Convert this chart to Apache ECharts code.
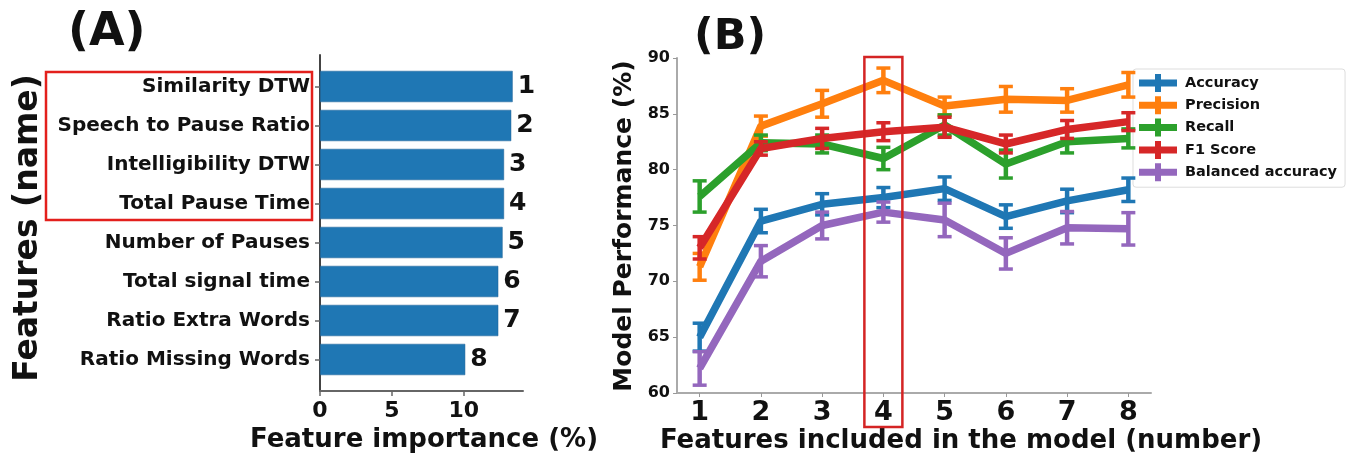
<!DOCTYPE html>
<html><head><meta charset="utf-8">
<script src="https://cdn.jsdelivr.net/npm/echarts@6/dist/echarts.min.js"></script>
<style>html,body{margin:0;padding:0;background:#fff}#c{width:1358px;height:462px}</style>
</head><body><div id="c"></div>
<script>
// ---- Panel A data ----
const features = ['Similarity DTW','Speech to Pause Ratio','Intelligibility DTW','Total Pause Time','Number of Pauses','Total signal time','Ratio Extra Words','Ratio Missing Words'];
const importance = [13.4, 13.3, 12.8, 12.8, 12.7, 12.4, 12.4, 10.1];
const ranks = ['1','2','3','4','5','6','7','8'];
const importanceTicks = [0, 5, 10];

// ---- Panel B data ----
const featureCounts = [1, 2, 3, 4, 5, 6, 7, 8];
const accuracy     = [65.0, 75.4, 76.9, 77.5, 78.3, 75.8, 77.2, 78.2];
const accuracyErr  = [1.25, 1.05, 0.95, 0.9, 1.05, 1.05, 1.05, 1.05];
const precision    = [71.3, 83.9, 85.9, 88.0, 85.7, 86.3, 86.2, 87.6];
const precisionErr = [1.2, 0.9, 1.2, 1.1, 0.8, 1.15, 1.05, 1.1];
const recall       = [77.6, 82.4, 82.3, 81.0, 84.0, 80.5, 82.5, 82.8];
const recallErr    = [1.4, 0.7, 0.8, 1.0, 0.9, 1.25, 1.0, 0.85];
const f1           = [73.0, 81.9, 82.8, 83.4, 83.8, 82.3, 83.6, 84.3];
const f1Err        = [1.0, 0.6, 0.9, 0.8, 0.9, 0.8, 0.8, 0.8];
const balanced     = [62.2, 71.8, 75.0, 76.2, 75.5, 72.5, 74.8, 74.7];
const balancedErr  = [1.5, 1.4, 1.2, 0.9, 1.5, 1.4, 1.45, 1.45];
const metricNames  = ['Accuracy', 'Precision', 'Recall', 'F1 Score', 'Balanced accuracy'];
const metricColors = ['#1f77b4', '#ff7f0e', '#2ca02c', '#d62728', '#9467bd'];
const perfTicksInterval = 5;

const FF = 'DejaVu Sans';
const metrics = [[accuracy, accuracyErr],[precision, precisionErr],[recall, recallErr],[f1, f1Err],[balanced, balancedErr]];

function errRender(color){
  return function(params, api){
    const x = api.value(0), lo = api.value(1), hi = api.value(2);
    const p1 = api.coord([x, lo]), p2 = api.coord([x, hi]);
    const cw = 7;
    return {type:'group', children:[
      {type:'line', shape:{x1:p1[0],y1:p1[1],x2:p2[0],y2:p2[1]}, style:{stroke:color, lineWidth:4.5}},
      {type:'line', shape:{x1:p1[0]-cw,y1:p1[1],x2:p1[0]+cw,y2:p1[1]}, style:{stroke:color, lineWidth:3.5}},
      {type:'line', shape:{x1:p2[0]-cw,y1:p2[1],x2:p2[0]+cw,y2:p2[1]}, style:{stroke:color, lineWidth:3.5}}
    ]};
  };
}

const series = [];
series.push({
  type:'bar', xAxisIndex:0, yAxisIndex:0, data: importance, barWidth:'80%',
  itemStyle:{color:'#1f77b4', borderColor:'#1a5f94', borderWidth:0.5},
  label:{show:true, position:'right', distance:5, fontFamily:FF, fontWeight:'bold', fontSize:25, color:'#111',
         formatter: p => ranks[p.dataIndex]},
  silent:true
});
metrics.forEach((m, i) => {
  const vals = m[0], errs = m[1];
  series.push({
    type:'line', name: metricNames[i], xAxisIndex:2, yAxisIndex:2,
    data: featureCounts.map((x, k) => [x, vals[k]]),
    showSymbol:false, symbol:'none', color: metricColors[i],
    lineStyle:{width:7.5, color: metricColors[i]}, z: 3 + i*2, silent:true
  });
  series.push({
    type:'custom', name: metricNames[i] + ' err', xAxisIndex:2, yAxisIndex:2,
    data: featureCounts.map((x, k) => [x, vals[k]-errs[k], vals[k]+errs[k]]),
    encode:{x:0, y:[1,2]}, renderItem: errRender(metricColors[i]), z: 4 + i*2, silent:true
  });
});

const chart = echarts.init(document.getElementById('c'), null, {renderer:'canvas'});
const option = {
  backgroundColor:'#fff',
  animation:false,
  grid:[
    {left:320, top:67, width:203, height:312},
    {left:320, top:55, width:203, height:336},
    {left:677, top:58, width:474, height:335}
  ],
  xAxis:[
    {gridIndex:0, type:'value', min:0, max:14.12, show:false},
    {gridIndex:1, type:'value', min:0, max:14.12,
     axisLine:{show:true, lineStyle:{color:'#666', width:2}},
     axisTick:{show:true, customValues: importanceTicks, length:5, lineStyle:{color:'#666', width:1.5}},
     axisLabel:{customValues: importanceTicks, fontFamily:FF, fontWeight:'bold', fontSize:22, color:'#111', margin:9},
     splitLine:{show:false}},
    {gridIndex:2, type:'value', min:0.63, max:8.37,
     axisLine:{show:true, lineStyle:{color:'#aaa', width:2}},
     axisTick:{show:true, customValues: featureCounts, length:4, lineStyle:{color:'#999'}},
     axisLabel:{customValues: featureCounts, fontFamily:FF, fontWeight:'bold', fontSize:27, color:'#111', margin:6},
     splitLine:{show:false}}
  ],
  yAxis:[
    {gridIndex:0, type:'category', inverse:true, data: features,
     axisLine:{show:false},
     axisTick:{show:true, alignWithLabel:true, length:5, lineStyle:{color:'#666', width:1.5}},
     axisLabel:{fontFamily:FF, fontWeight:'bold', fontSize:20, color:'#111', margin:10}},
    {gridIndex:1, type:'value', min:0, max:1,
     axisLine:{show:true, lineStyle:{color:'#444', width:2}},
     axisTick:{show:false}, axisLabel:{show:false}, splitLine:{show:false}},
    {gridIndex:2, type:'value', min:60, max:90, interval: perfTicksInterval,
     axisLine:{show:true, lineStyle:{color:'#aaa', width:2}},
     axisTick:{show:true, length:4, lineStyle:{color:'#999'}},
     axisLabel:{fontFamily:FF, fontWeight:'bold', fontSize:16, color:'#111', margin:7},
     splitLine:{show:false}}
  ],
  legend:{
    data: metricNames, orient:'vertical', left:1133, top:69,
    icon:'path://M0,5.5H16V0H22V5.5H38V12.5H22V18H16V12.5H0Z',
    itemWidth:38, itemHeight:18, itemGap:4.3, padding:[5,8,6,6],
    borderColor:'#ddd', borderWidth:1, borderRadius:3, backgroundColor:'rgba(255,255,255,0.85)',
    itemStyle:{borderWidth:0},
    textStyle:{fontFamily:FF, fontWeight:'bold', fontSize:14.5, color:'#111', padding:[0,0,0,3]},
    selectedMode:false
  },
  series: series,
  graphic:[
    {type:'text', left:68, top:10, style:{text:'(A)', font:'bold 46px "DejaVu Sans"', fill:'#111'}},
    {type:'text', left:694, top:16, style:{text:'(B)', font:'bold 43px "DejaVu Sans"', fill:'#111'}},
    {type:'text', x:28, y:228, rotation:Math.PI/2, style:{text:'Features (name)', font:'bold 33px "DejaVu Sans"', fill:'#111', align:'center', verticalAlign:'middle'}},
    {type:'text', x:424, y:440, style:{text:'Feature importance (%)', font:'bold 26px "DejaVu Sans"', fill:'#111', align:'center', verticalAlign:'middle'}},
    {type:'text', x:624, y:226, rotation:Math.PI/2, style:{text:'Model Performance (%)', font:'bold 25px "DejaVu Sans"', fill:'#111', align:'center', verticalAlign:'middle'}},
    {type:'text', x:961, y:441, style:{text:'Features included in the model (number)', font:'bold 26px "DejaVu Sans"', fill:'#111', align:'center', verticalAlign:'middle'}},
    {type:'rect', shape:{x:46, y:72, width:266, height:148}, style:{fill:'none', stroke:'#e3201c', lineWidth:2.5}, z:50}
  ]
};
chart.setOption(option);
const px4 = chart.convertToPixel({xAxisIndex:2}, featureCounts[3]);
chart.setOption({graphic:[{type:'rect', id:'sel', shape:{x:px4-19, y:57, width:38, height:370}, style:{fill:'none', stroke:'#d42424', lineWidth:2.5}, z:50}]});
</script>
</body></html>
